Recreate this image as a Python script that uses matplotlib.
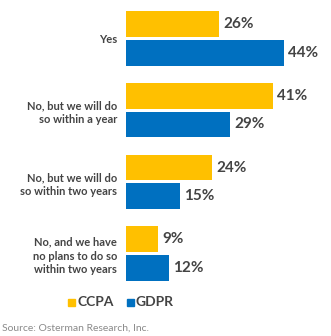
import matplotlib
matplotlib.use("Agg")
import matplotlib.pyplot as plt
from matplotlib.patches import Rectangle

categories = ["Yes", "No, but we will do\nso within a year",
              "No, but we will do\nso within two years",
              "No, and we have\nno plans to do so\nwithin two years"]
ccpa = [26, 41, 24, 9]
gdpr = [44, 29, 15, 12]
series_names = ["CCPA", "GDPR"]
colors = ["#FFC000", "#0070C0"]
text_color = "#444444"

plt.rcParams['font.family'] = ['Lato', 'DejaVu Sans']

W, H = 331, 336
fig = plt.figure(figsize=(W / 100, H / 100), dpi=100)
ax = fig.add_axes([126 / W, 1 - 281 / H, 205 / W, 270 / H])

bh = 0.361
off = 0.2
ys = list(range(len(categories)))
ax.barh([y - off for y in ys], ccpa, height=bh, color=colors[0])
ax.barh([y + off for y in ys], gdpr, height=bh, color=colors[1])

for y, v in zip(ys, ccpa):
    ax.text(v + 1.2, y - off, f"{v}%", va="center", ha="left",
            fontsize=11, fontweight="bold", color=text_color)
for y, v in zip(ys, gdpr):
    ax.text(v + 1.2, y + off, f"{v}%", va="center", ha="left",
            fontsize=11, fontweight="bold", color=text_color)

ax.set_xlim(0, 205 / 3.58)
ax.set_ylim(3 + off + bh / 2, -off - bh / 2)
ax.set_yticks(ys)
ax.set_yticklabels(categories, fontsize=8, fontweight="bold",
                   color=text_color, linespacing=1.3)
ax.tick_params(axis="y", length=0, pad=6.5)
ax.set_xticks([])
for s in ax.spines.values():
    s.set_visible(False)

# legend
ly = 1 - 302 / H
sq = 7
fig.patches.append(Rectangle((68 / W, ly - sq / 2 / H), sq / W, sq / H,
                             transform=fig.transFigure, color=colors[0]))
fig.text(77 / W, ly, series_names[0], va="center", ha="left", fontsize=10,
         fontweight="bold", color=text_color)
fig.patches.append(Rectangle((127 / W, ly - sq / 2 / H), sq / W, sq / H,
                             transform=fig.transFigure, color=colors[1]))
fig.text(136 / W, ly, series_names[1], va="center", ha="left", fontsize=10,
         fontweight="bold", color=text_color)

fig.text(2 / W, 1 - 328 / H, "Source: Osterman Research, Inc.", va="center",
         ha="left", fontsize=7.5, color="#8a8a8a")

fig.savefig("out.png", dpi=100)
